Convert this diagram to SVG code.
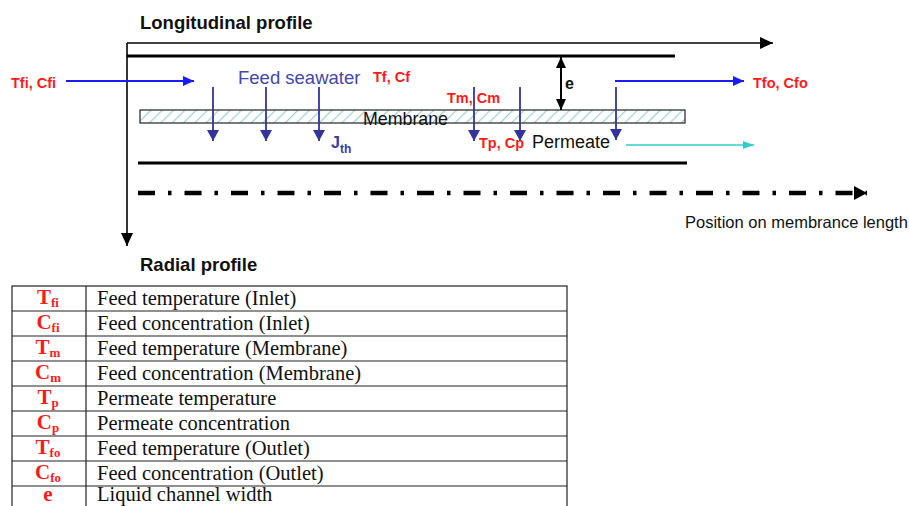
<svg xmlns="http://www.w3.org/2000/svg" width="909" height="506" viewBox="0 0 909 506">
<style>
.sans{font-family:"Liberation Sans",Arial,sans-serif}
.lbl{font-family:"Liberation Sans",Arial,sans-serif;font-weight:bold;font-size:14.5px;fill:#ff1a1a}
.title{font-family:"Liberation Sans",Arial,sans-serif;font-weight:bold;font-size:18.5px;fill:#111}
.ax{stroke:#000;stroke-width:1.6;fill:none}
.wall{stroke:#000;stroke-width:3.2;fill:none}
.flux{stroke:#33339c;stroke-width:1.8;fill:none}
.tb{font-family:"Liberation Serif","Times New Roman",serif;font-size:20.5px;fill:#111}
.sym{font-family:"Liberation Serif","Times New Roman",serif;font-weight:bold;font-size:21px;fill:#ff1a1a}
.sub{font-size:13px}
.grid{stroke:#222;stroke-width:1.2;fill:none}
</style>
<defs>
<marker id="ah" markerUnits="userSpaceOnUse" markerWidth="14" markerHeight="12" refX="13" refY="6" orient="auto"><path d="M0,0 L13,6 L0,12 Z" fill="#000"/></marker>
<marker id="ahs" markerUnits="userSpaceOnUse" markerWidth="12" markerHeight="10" refX="11" refY="5" orient="auto-start-reverse"><path d="M0,0 L11,5 L0,10 Z" fill="#000"/></marker>
<marker id="ahb" markerUnits="userSpaceOnUse" markerWidth="12" markerHeight="10" refX="11" refY="5" orient="auto"><path d="M0,0 L11,5 L0,10 Z" fill="#1a1aff"/></marker>
<marker id="ahc" markerUnits="userSpaceOnUse" markerWidth="12" markerHeight="10" refX="11" refY="5" orient="auto"><path d="M0,1 L11,5 L0,9 Z" fill="#33cccc"/></marker>
<marker id="ahd" markerUnits="userSpaceOnUse" markerWidth="12" markerHeight="12" refX="11" refY="6" orient="auto"><path d="M0,0 L11,6 L0,12 Z" fill="#33339c"/></marker>
<marker id="ahk" markerUnits="userSpaceOnUse" markerWidth="14" markerHeight="14" refX="13" refY="7" orient="auto"><path d="M0,0 L13,7 L0,14 Z" fill="#000"/></marker>
<pattern id="hatch" patternUnits="userSpaceOnUse" width="8" height="8" patternTransform="rotate(45)">
<rect width="8" height="8" fill="#fff"/>
<line x1="0" y1="0" x2="0" y2="8" stroke="#9fd3d3" stroke-width="2.5"/>
</pattern>
</defs>

<text class="title" x="140" y="29">Longitudinal profile</text>
<text class="title" x="140" y="271">Radial profile</text>

<g id="axes">
<line class="ax" x1="127" y1="43" x2="773" y2="43" marker-end="url(#ah)"/>
<line class="ax" x1="127" y1="43" x2="127" y2="246" marker-end="url(#ah)"/>
<line x1="138" y1="193" x2="867" y2="193" stroke="#000" stroke-width="4.5" stroke-dasharray="17 13 3.5 13" marker-end="url(#ahk)"/>
<text class="sans" x="685" y="228" font-size="16.5" fill="#111">Position on membrance length</text>
</g>

<g id="channel">
<line class="wall" x1="127" y1="56" x2="675" y2="56"/>
<line class="wall" x1="138" y1="163" x2="687" y2="163"/>
</g>

<g id="membrane">
<rect x="140" y="110" width="545" height="13" fill="url(#hatch)" stroke="#222" stroke-width="1.2"/>
<text class="sans" x="363" y="124.5" font-size="17.8" fill="#111">Membrane</text>
</g>

<g id="connectors">
<line x1="66" y1="81" x2="194" y2="81" stroke="#1a1aff" stroke-width="1.8" marker-end="url(#ahb)"/>
<line x1="615" y1="81" x2="744" y2="81" stroke="#1a1aff" stroke-width="1.8" marker-end="url(#ahb)"/>
<line x1="626" y1="145" x2="754" y2="145" stroke="#33cccc" stroke-width="1.6" marker-end="url(#ahc)"/>
<line class="flux" x1="213" y1="87" x2="213" y2="141" marker-end="url(#ahd)"/>
<line class="flux" x1="266" y1="87" x2="266" y2="141" marker-end="url(#ahd)"/>
<line class="flux" x1="319" y1="87" x2="319" y2="141" marker-end="url(#ahd)"/>
<line class="flux" x1="474" y1="87" x2="474" y2="141" marker-end="url(#ahd)"/>
<line class="flux" x1="520" y1="87" x2="520" y2="141" marker-end="url(#ahd)"/>
<line class="flux" x1="616" y1="87" x2="616" y2="140" marker-end="url(#ahd)"/>
<line x1="561" y1="57" x2="561" y2="110" stroke="#000" stroke-width="2" marker-start="url(#ahs)" marker-end="url(#ahs)"/>
</g>

<g id="labels">
<text class="lbl" x="11" y="88">Tfi, Cfi</text>
<text class="sans" x="238" y="84" font-size="18.5" fill="#4646ac">Feed seawater</text>
<text class="lbl" x="373" y="82">Tf, Cf</text>
<text class="lbl" x="447" y="103">Tm, Cm</text>
<text class="lbl" x="479" y="148">Tp, Cp</text>
<text class="sans" x="532" y="148" font-size="18" fill="#111">Permeate</text>
<text class="lbl" x="753" y="88">Tfo, Cfo</text>
<text class="sans" x="565" y="89" font-size="16" font-weight="bold" fill="#111">e</text>
<text class="sans" x="331" y="148" font-size="16" font-weight="bold" fill="#3a3aa8">J<tspan font-size="12" dy="5">th</tspan></text>
</g>

<g id="table">
<rect class="grid" x="12" y="286" width="555" height="230"/>
<line class="grid" x1="86" y1="286" x2="86" y2="516"/>
<line class="grid" x1="12" y1="311" x2="567" y2="311"/>
<line class="grid" x1="12" y1="336" x2="567" y2="336"/>
<line class="grid" x1="12" y1="361" x2="567" y2="361"/>
<line class="grid" x1="12" y1="386" x2="567" y2="386"/>
<line class="grid" x1="12" y1="411" x2="567" y2="411"/>
<line class="grid" x1="12" y1="436" x2="567" y2="436"/>
<line class="grid" x1="12" y1="461" x2="567" y2="461"/>
<line class="grid" x1="12" y1="486" x2="567" y2="486"/>
<text class="sym" x="48" y="304" text-anchor="middle">T<tspan class="sub" dy="3">fi</tspan></text>
<text class="sym" x="48" y="329" text-anchor="middle">C<tspan class="sub" dy="3">fi</tspan></text>
<text class="sym" x="48" y="354" text-anchor="middle">T<tspan class="sub" dy="3">m</tspan></text>
<text class="sym" x="48" y="379" text-anchor="middle">C<tspan class="sub" dy="3">m</tspan></text>
<text class="sym" x="48" y="404" text-anchor="middle">T<tspan class="sub" dy="3">p</tspan></text>
<text class="sym" x="48" y="429" text-anchor="middle">C<tspan class="sub" dy="3">p</tspan></text>
<text class="sym" x="48" y="454" text-anchor="middle">T<tspan class="sub" dy="3">fo</tspan></text>
<text class="sym" x="48" y="479" text-anchor="middle">C<tspan class="sub" dy="3">fo</tspan></text>
<text class="sym" x="48" y="501" text-anchor="middle">e</text>
<text class="tb" x="97" y="305">Feed temperature (Inlet)</text>
<text class="tb" x="97" y="330">Feed concentration (Inlet)</text>
<text class="tb" x="97" y="355">Feed temperature (Membrane)</text>
<text class="tb" x="97" y="380">Feed concentration (Membrane)</text>
<text class="tb" x="97" y="405">Permeate temperature</text>
<text class="tb" x="97" y="430">Permeate concentration</text>
<text class="tb" x="97" y="455">Feed temperature (Outlet)</text>
<text class="tb" x="97" y="480">Feed concentration (Outlet)</text>
<text class="tb" x="97" y="501">Liquid channel width</text>
</g>
</svg>
